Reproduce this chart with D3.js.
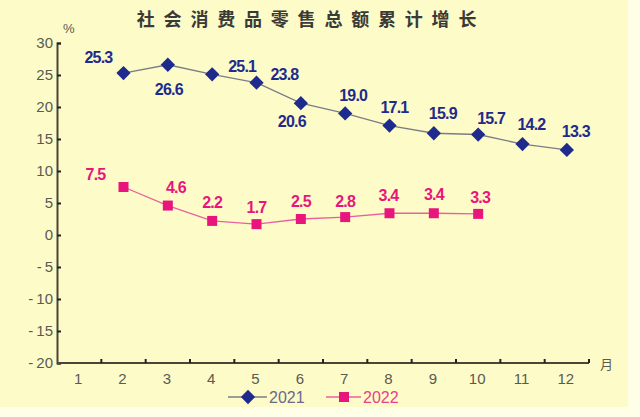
<!DOCTYPE html>
<html><head><meta charset="utf-8">
<script src="https://cdn.jsdelivr.net/npm/d3@7"></script>
<style>
html,body{margin:0;padding:0;background:#fffee6;}
svg{display:block;}
</style></head>
<body>
<svg id="c" width="640" height="417"></svg>
<script>
const months = ["1","2","3","4","5","6","7","8","9","10","11","12"];
const yTicks = [30,25,20,15,10,5,0,-5,-10,-15,-20];
const months2021 = ["2","3","4","5","6","7","8","9","10","11","12"];
const values2021 = [25.3,26.6,25.1,23.8,20.6,19.0,17.1,15.9,15.7,14.2,13.3];
const months2022 = ["2","3","4","5","6","7","8","9","10"];
const values2022 = [7.5,4.6,2.2,1.7,2.5,2.8,3.4,3.4,3.3];
const seriesNames = ["2021","2022"];
const title = "社会消费品零售总额累计增长";

// label placement (offsets from the marker), layout only
const off2021 = [[-25,-16],[1,24],[30,-8],[28,-8],[-9,18],[8,-18],[5,-18],[9,-20],[13,-16],[9,-20],[9,-19]];
const off2022 = [[-28,-13],[8,-18],[0,-19],[0,-17],[0,-18],[0,-16],[-1,-18],[0,-19],[2,-17]];

const svg = d3.select("#c");
const W=640,H=417;
const BLUE="#1f2b8c", PINK="#e8167c", GRAY="#5a5a52";

svg.append("rect").attr("width",W).attr("height",H).attr("fill","#fffee6");
svg.append("rect").attr("x",0).attr("y",0).attr("width",628).attr("height",407).attr("fill","#fdfbc8");

const x = d3.scaleBand().domain(months).range([57,589]).paddingInner(0).paddingOuter(0);
const y = d3.scaleLinear().domain([-20,30]).range([363,43]);
const cx = m => x(m)+x.bandwidth()/2;

// title
svg.append("text").attr("x",311).attr("y",26).attr("text-anchor","middle")
  .attr("font-family","'Noto Sans CJK SC', sans-serif").attr("font-weight","bold")
  .attr("font-size",18).attr("letter-spacing",8.8).attr("fill","#3a3a36").text(title);

// y axis
const yAxis = svg.append("g").attr("transform","translate(57,0)")
  .call(d3.axisRight(y).tickValues(yTicks).tickSize(4).tickFormat(""));
yAxis.select(".domain").attr("stroke","#4a4636").attr("stroke-width",2);
yAxis.selectAll(".tick line").attr("stroke","#222").attr("stroke-width",2);
svg.append("g").selectAll("text").data(yTicks).join("text")
  .attr("x",53).attr("y",d=>y(d)).attr("dy","0.36em").attr("text-anchor","end")
  .attr("font-family","Liberation Sans, Arial, sans-serif").attr("font-size",15)
  .attr("fill",GRAY).text(d=>d<0?"-\u2009"+(-d):d);
svg.append("text").attr("x",63).attr("y",33).attr("font-family","Liberation Sans, Arial, sans-serif")
  .attr("font-size",13).attr("fill",GRAY).text("%");

// x axis
const bounds = months.slice(1).map(m=>x(m));
svg.append("line").attr("x1",57).attr("x2",589).attr("y1",363).attr("y2",363)
  .attr("stroke","#4a4636").attr("stroke-width",2.2);
svg.append("g").selectAll("line").data(bounds.concat([589])).join("line")
  .attr("x1",d=>d).attr("x2",d=>d).attr("y1",363).attr("y2",359)
  .attr("stroke","#222").attr("stroke-width",2);
svg.append("g").selectAll("text").data(months).join("text")
  .attr("x",d=>cx(d)-1).attr("y",384).attr("text-anchor","middle")
  .attr("font-family","Liberation Sans, Arial, sans-serif").attr("font-size",15)
  .attr("fill",GRAY).text(d=>d);
svg.append("text").attr("x",600).attr("y",369).attr("font-family","'Noto Sans CJK SC', sans-serif")
  .attr("font-size",13).attr("fill",GRAY).text("月");

// series
const d21 = months2021.map((m,i)=>({m,v:values2021[i],o:off2021[i]}));
const d22 = months2022.map((m,i)=>({m,v:values2022[i],o:off2022[i]}));
const line = d3.line().x(d=>cx(d.m)).y(d=>y(d.v));

svg.append("path").datum(d21).attr("d",line).attr("fill","none").attr("stroke","#7c7c84").attr("stroke-width",1.3);
svg.append("path").datum(d22).attr("d",line).attr("fill","none").attr("stroke","#e9609e").attr("stroke-width",1.3);

const diamond = d3.symbol().type(d3.symbolDiamond2).size(130);
const square = d3.symbol().type(d3.symbolSquare).size(100);

svg.append("g").selectAll("path").data(d21).join("path")
  .attr("transform",d=>`translate(${cx(d.m)},${y(d.v)})`).attr("d",diamond).attr("fill",BLUE);
svg.append("g").selectAll("path").data(d22).join("path")
  .attr("transform",d=>`translate(${cx(d.m)},${y(d.v)})`).attr("d",square).attr("fill",PINK);

const lbl = (data,color)=>svg.append("g").selectAll("text").data(data).join("text")
  .attr("x",d=>cx(d.m)+d.o[0]).attr("y",d=>y(d.v)+d.o[1]).attr("dy","0.36em")
  .attr("text-anchor","middle").attr("font-family","Liberation Sans, Arial, sans-serif")
  .attr("font-weight","bold").attr("font-size",16).attr("letter-spacing",-0.8)
  .attr("fill",color).text(d=>d.v.toFixed(1));
lbl(d21,BLUE); lbl(d22,PINK);

// legend
const lg = svg.append("g");
lg.append("line").attr("x1",228).attr("x2",267).attr("y1",397).attr("y2",397).attr("stroke","#7c7c84").attr("stroke-width",1.3);
lg.append("path").attr("transform","translate(248,397)").attr("d",diamond).attr("fill",BLUE);
lg.append("text").attr("x",269).attr("y",403).attr("font-family","Liberation Sans, Arial, sans-serif")
  .attr("font-size",16).attr("fill","#6a6890").text(seriesNames[0]);
lg.append("line").attr("x1",326).attr("x2",361).attr("y1",397).attr("y2",397).attr("stroke","#e9609e").attr("stroke-width",1.3);
lg.append("path").attr("transform","translate(344,397)").attr("d",square).attr("fill",PINK);
lg.append("text").attr("x",363).attr("y",403).attr("font-family","Liberation Sans, Arial, sans-serif")
  .attr("font-size",16).attr("fill","#e8408c").text(seriesNames[1]);
</script>
</body></html>
